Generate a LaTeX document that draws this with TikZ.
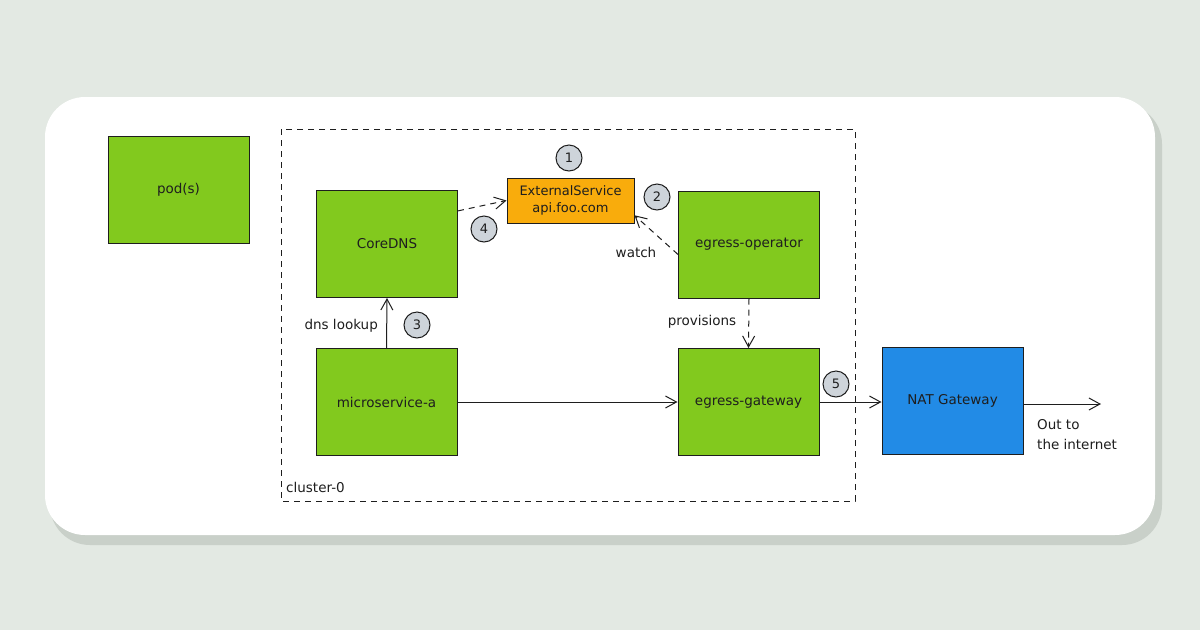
\documentclass[tikz,border=0pt]{standalone}
\usepackage{fontspec}
\setmainfont{DejaVu Sans}
\usetikzlibrary{arrows.meta,calc}
\definecolor{bgc}{HTML}{E3E9E3}
\definecolor{shadowc}{HTML}{C3CAC3}
\definecolor{greenc}{HTML}{82C91E}
\definecolor{orangec}{HTML}{F9AC0C}
\definecolor{bluec}{HTML}{228BE6}
\definecolor{circc}{HTML}{CED4DA}
\definecolor{inkc}{HTML}{1E1E1E}
\tikzset{
  box/.style={draw=inkc, line width=1pt, fill=greenc, minimum width=141pt, minimum height=107pt, inner sep=0pt, font=\fontsize{13.5}{15}\selectfont, text=inkc},
  extbox/.style={draw=inkc, line width=1pt, fill=orangec, minimum width=127pt, minimum height=45pt, inner sep=0pt, align=center, font=\fontsize{13}{17}\selectfont, text=inkc},
  natbox/.style={box, fill=bluec},
  num/.style={circle, draw=inkc, line width=1pt, fill=circc, minimum size=26pt, inner sep=0pt, font=\fontsize{13}{14}\selectfont, text=inkc},
  lbl/.style={font=\fontsize{13.5}{15}\selectfont, text=inkc, inner sep=0pt},
  conn/.style={draw=inkc, line width=1pt, -{Straight Barb[length=11pt,width=12pt,line width=1pt]}},
  dconn/.style={conn, dash pattern=on 6pt off 5pt},
}
\begin{document}
\begin{tikzpicture}[x=1pt,y=-1pt]
\useasboundingbox (0,0) rectangle (1200,630);
\fill[bgc] (0,0) rectangle (1200,630);
% card shadow and card
\fill[shadowc, opacity=0.8, rounded corners=40pt] (50,104) rectangle (1162,545);
\fill[white, rounded corners=40pt] (45,97) rectangle (1155,535);

% cluster frame
\draw[inkc, line width=0.9pt, dash pattern=on 6pt off 5pt] (281,129) rectangle (855,501);
\node[lbl, anchor=west] (cl) at (286,487) {cluster-0};

% nodes
\node[box] (pods) at (178.5,189.5) {pod(s)};
\node[box] (dns) at (387,244) {CoreDNS};
\node[extbox] (ext) at (570.5,200.5) {ExternalService\\api.foo.com};
\node[box] (op) at (749,244.5) {egress-operator};
\node[box] (ms) at (386.5,402) {microservice-a};
\node[box] (gw) at (748.5,402) {egress-gateway};
\node[natbox] (nat) at (952.5,400.5) {NAT Gateway};

\node[num] (n1) at (569,158) {1};
\node[num] (n2) at (657,197) {2};
\node[num] (n3) at (417,325) {3};
\node[num] (n4) at (484,229) {4};
\node[num] (n5) at (836,384) {5};

\coordinate (out) at (1101,404);

% connectors
\draw[conn] (ms.north) -- (dns.south);
\node[lbl, anchor=east] (dl) at (378,326) {dns lookup};
\draw[dconn] (dns.25) -- (ext.west);
\draw[dconn] (op.188) -- (ext.-13);
\node[lbl] (wt) at (636,252) {watch};
\draw[dconn] (op.south) -- (gw.north);
\node[lbl] (pv) at (702,322) {provisions};
\draw[conn] (ms.east) -- (gw.west);
\draw[conn] (gw.east) -- (nat.west |- gw.east);
\draw[conn] (nat.east |- out) -- (out);
\node[lbl, anchor=north west, align=left, font=\fontsize{13.5}{20}\selectfont] (ot) at (1037,419) {Out to\\the internet};
\end{tikzpicture}
\end{document}
